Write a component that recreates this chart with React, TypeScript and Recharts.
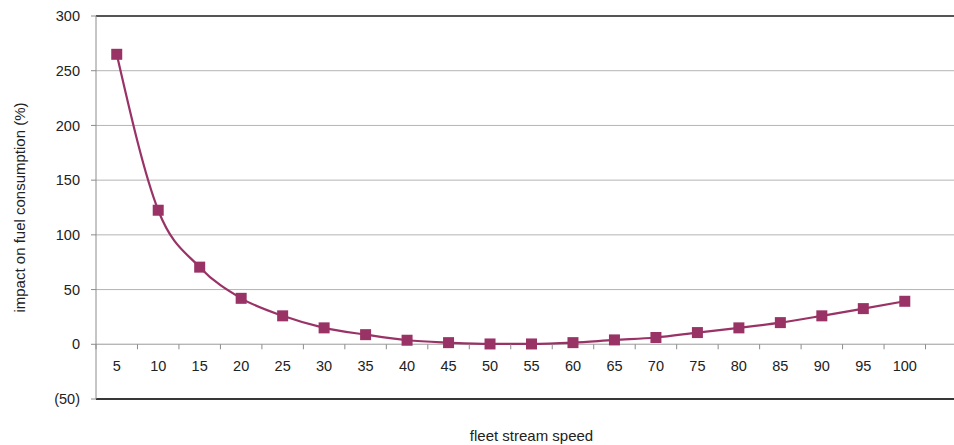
import { LineChart, Line, XAxis, YAxis, CartesianGrid, ReferenceLine } from 'recharts'

// ============================================
// Data
// ============================================

const speeds = ['5', '10', '15', '20', '25', '30', '35', '40', '45', '50', '55', '60', '65', '70', '75', '80', '85', '90', '95', '100', '']
const impact = [265, 122.5, 70.5, 42, 26, 15, 8.8, 3.7, 1.5, 0.3, 0.3, 1.5, 4, 6.2, 10.7, 15, 19.8, 26, 32.6, 39.3, null]
const yTicks = [-50, 0, 50, 100, 150, 200, 250, 300]

const chartData = speeds.map((s, i) => ({ speed: s, impact: impact[i] }))

// ============================================
// Layout
// ============================================

const CHART_W = 967
const CHART_H = 445
const TOP = 16
const X_AXIS_H = 46
const Y_MIN = -50
const Y_MAX = 300
const plotH = CHART_H - TOP - X_AXIS_H
// pixel row of the value 0, where the category axis crosses
const zeroY = TOP + ((Y_MAX - 0) / (Y_MAX - Y_MIN)) * plotH
const halfBandFallback = (CHART_W - 96) / speeds.length / 2

const PLUM = '#993366'
const FONT = '"Liberation Sans", Arial, sans-serif'

function formatY(v: number) {
  return v < 0 ? `(${Math.abs(v)})` : `${v}`
}

// category labels sit under the zero line, tick marks between categories
function SpeedTick(props: any) {
  const { x, payload } = props
  const half = payload && payload.offset ? payload.offset : halfBandFallback
  return (
    <g>
      <line x1={x - half} x2={x - half} y1={zeroY} y2={zeroY + 5} stroke="#8c8c8c" strokeWidth={1} />
      <text x={x} y={zeroY + 22} dy="0.355em" textAnchor="middle" fontSize={14.5} fontFamily={FONT} fill="#222">
        {payload.value}
      </text>
    </g>
  )
}

function SquareDot(props: any) {
  const { cx, cy, index } = props
  if (cx == null || cy == null || Number.isNaN(cy)) return <g key={`d-${index}`} />
  return <rect key={`d-${index}`} x={cx - 5.5} y={cy - 5.5} width={11} height={11} fill={PLUM} />
}

export default function App() {
  return (
    <div style={{ position: 'absolute', left: 0, top: 0, width: 954, height: 445, overflow: 'hidden', background: '#fff' }}>
      <LineChart
        width={CHART_W}
        height={CHART_H}
        data={chartData}
        margin={{ top: TOP, right: 0, bottom: 0, left: 0 }}
      >
        <CartesianGrid vertical={false} stroke="#b4b4b4" />
        <XAxis
          dataKey="speed"
          scale="band"
          height={X_AXIS_H}
          interval={0}
          tickLine={false}
          axisLine={{ stroke: '#000', strokeWidth: 1.5 }}
          tick={<SpeedTick />}
          label={{
            value: 'fleet stream speed',
            position: 'insideBottom',
            offset: 4,
            style: { fontSize: 15, fontFamily: FONT, fill: '#222' },
          }}
        />
        <YAxis
          width={96}
          domain={[Y_MIN, Y_MAX]}
          ticks={yTicks}
          tickFormatter={formatY}
          axisLine={{ stroke: '#8c8c8c' }}
          tickLine={{ stroke: '#8c8c8c' }}
          tickSize={5}
          tickMargin={11}
          tick={{ fontSize: 14.5, fontFamily: FONT, fill: '#222' }}
          label={{
            value: 'impact on fuel consumption (%)',
            angle: -90,
            position: 'insideLeft',
            offset: 20,
            style: { textAnchor: 'middle', fontSize: 15, fontFamily: FONT, fill: '#222' },
          }}
        />
        <ReferenceLine y={0} stroke="#b4b4b4" />
        <ReferenceLine y={Y_MAX} stroke="#555" strokeWidth={2} />
        <Line
          type="monotone"
          dataKey="impact"
          stroke={PLUM}
          strokeWidth={2.2}
          dot={<SquareDot />}
          activeDot={false}
          isAnimationActive={false}
        />
      </LineChart>
    </div>
  )
}
